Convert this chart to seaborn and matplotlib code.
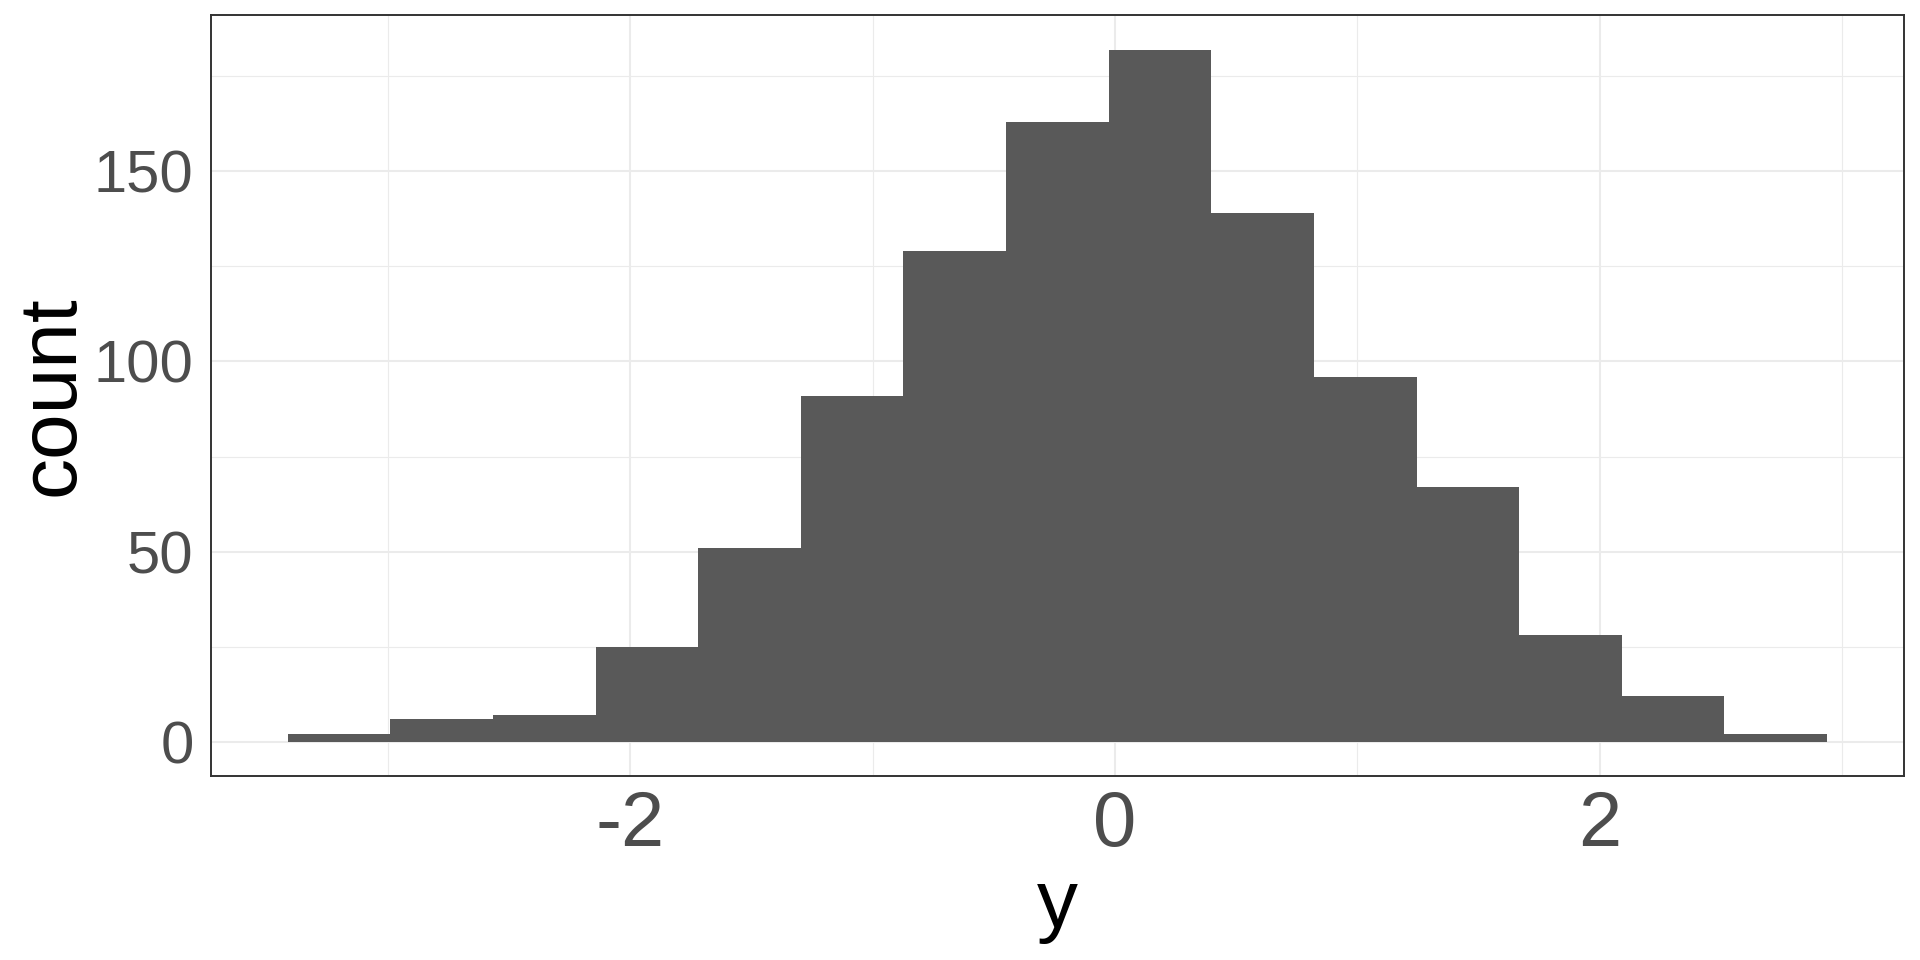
import numpy as np
import pandas as pd
import matplotlib
matplotlib.use("Agg")
import matplotlib.pyplot as plt
import seaborn as sns

# ---- data ----
bin_edges = [-3.414, -2.990, -2.567, -2.143, -1.720, -1.296, -0.873, -0.449,
             -0.026, 0.398, 0.821, 1.245, 1.668, 2.092, 2.515, 2.939]
counts = [2, 6, 7, 25, 51, 91, 129, 163, 182, 139, 96, 67, 28, 12, 2]
x_ticks = [-2, 0, 2]
x_minor = [-3, -1, 1, 3]
y_ticks = [0, 50, 100, 150]
y_minor = [25, 75, 125, 175]
x_label = "y"
y_label = "count"

edges = np.array(bin_edges)
centers = (edges[:-1] + edges[1:]) / 2
df = pd.DataFrame({"y": centers, "count": counts})

sns.set_theme(style="white")
plt.rcParams["font.family"] = ["Liberation Sans", "DejaVu Sans"]

W, H = 1920, 960
fig = plt.figure(figsize=(W / 100, H / 100), dpi=100)
left, right, top, bottom = 210.7, 1904.0, 15.0, 776.4
ax = fig.add_axes([left / W, 1 - bottom / H, (right - left) / W, (bottom - top) / H])

sns.histplot(data=df, x="y", weights="count", bins=list(bin_edges), color="#595959",
             alpha=1, linewidth=0, ax=ax)

# limits with ggplot-like 5% expansion
xr = edges[-1] - edges[0]
ax.set_xlim(edges[0] - 0.05 * xr, edges[-1] + 0.05 * xr)
ymax = max(counts)
ax.set_ylim(-0.05 * ymax, ymax * 1.05)

ax.set_xticks(x_ticks)
ax.set_xticks(x_minor, minor=True)
ax.set_yticks(y_ticks)
ax.set_yticks(y_minor, minor=True)
ax.set_xticklabels([str(v) for v in x_ticks])
ax.set_yticklabels([str(v) for v in y_ticks])

ax.set_axisbelow(True)
ax.grid(which="major", color="#EBEBEB", linewidth=1.5)
ax.grid(which="minor", color="#EBEBEB", linewidth=0.8)

for s in ax.spines.values():
    s.set_visible(True)
    s.set_color("#333333")
    s.set_linewidth(1.4)

ax.tick_params(axis="both", which="major", length=5.8, width=1.4, color="#333333",
               labelcolor="#4D4D4D")
ax.tick_params(axis="x", which="major", labelsize=56, pad=3.3)
ax.tick_params(axis="y", which="major", labelsize=43, pad=6.5)
ax.tick_params(axis="both", which="minor", length=0)

ax.set_xlabel(x_label, fontsize=59, color="black", va="baseline")
ax.xaxis.set_label_coords(0.5, (bottom - 927) / (bottom - top))
ax.set_ylabel(y_label, fontsize=59, color="black", va="baseline",
              rotation_mode="anchor")
ax.yaxis.set_label_coords((74 - left) / (right - left), 0.5)

fig.savefig("out.png", dpi=100, facecolor="white")
